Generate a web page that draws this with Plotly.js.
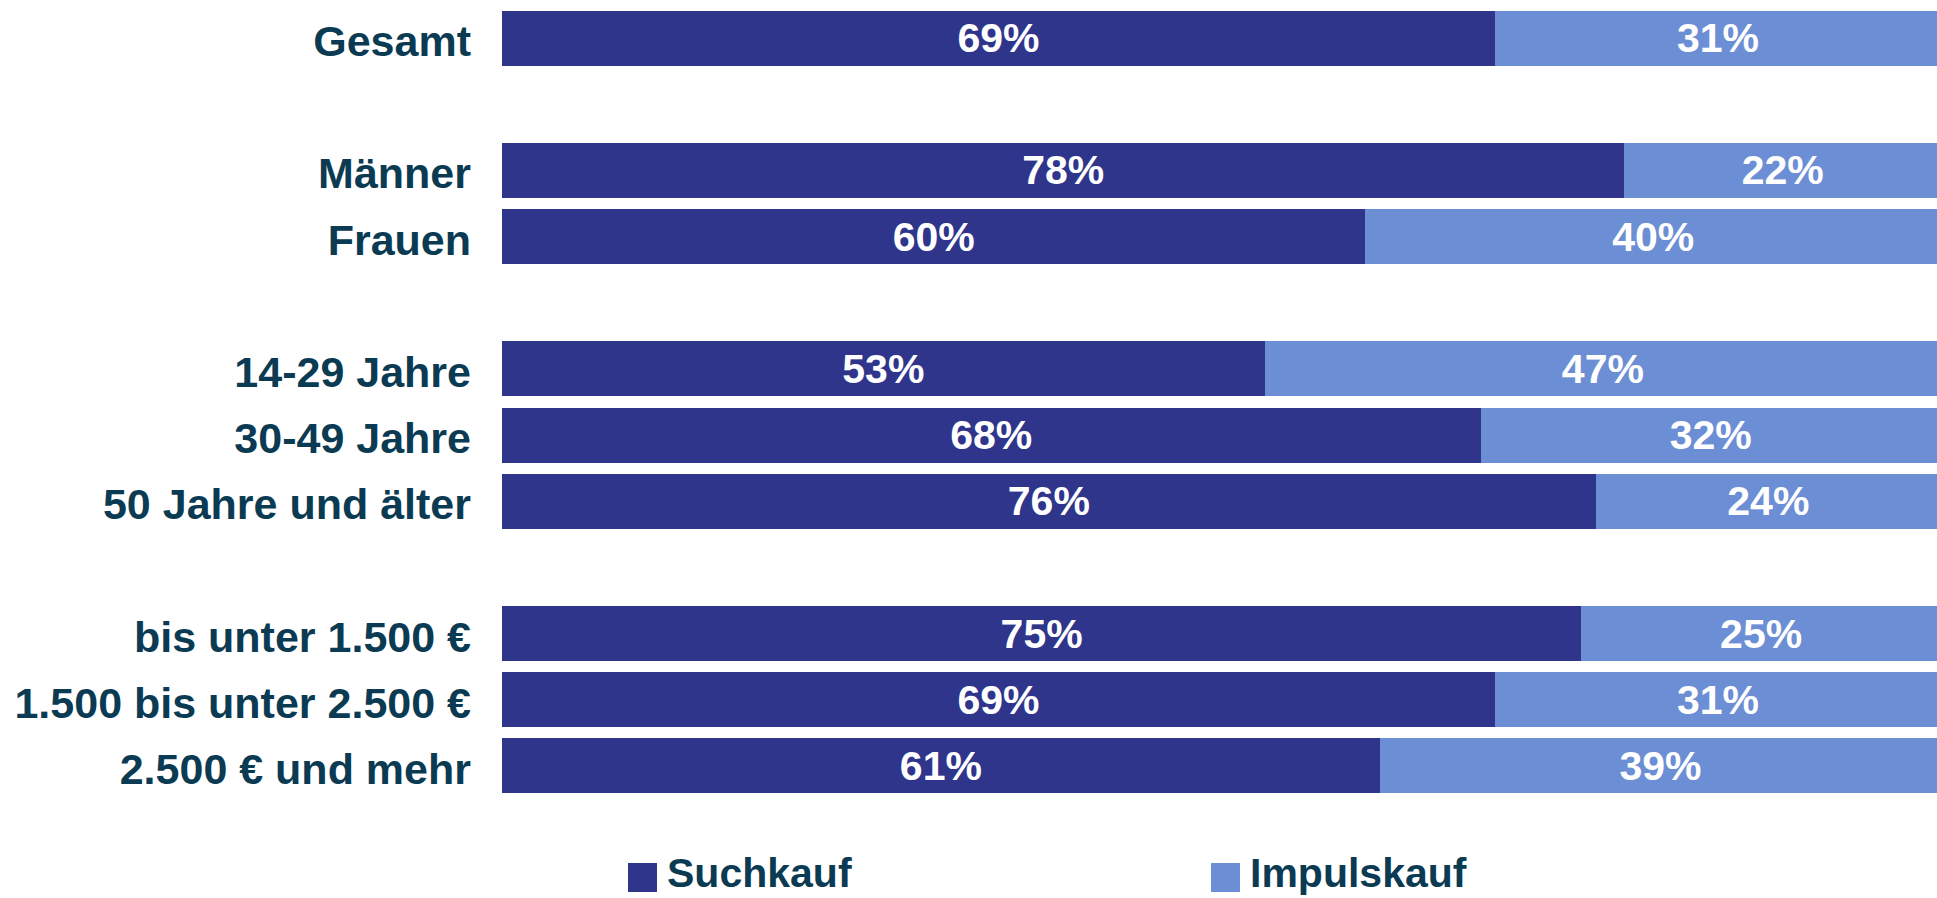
<!DOCTYPE html>
<html>
<head>
<meta charset="utf-8">
<script src="https://cdn.plot.ly/plotly-3.0.1.min.js"></script>
<style>
  html, body { margin: 0; padding: 0; background: #ffffff; }
  #chart { width: 1937px; height: 898px; }
</style>
</head>
<body>
<div id="chart"></div>
<script>
// ---- Data ----
const categories = [
  "Gesamt", " ",
  "Männer", "Frauen", "  ",
  "14-29 Jahre", "30-49 Jahre", "50 Jahre und älter", "   ",
  "bis unter 1.500 €", "1.500 bis unter 2.500 €", "2.500 € und mehr"
];
const suchkauf   = [69, null, 78, 60, null, 53, 68, 76, null, 75, 69, 61];
const impulskauf = [31, null, 22, 40, null, 47, 32, 24, null, 25, 31, 39];
const seriesNames = ["Suchkauf", "Impulskauf"];

// ---- Styles ----
const FONT = "Liberation Sans, Arial, Helvetica, sans-serif";
const TEXT_COLOR = "#0b3a53";
const DARK = "#2e358b";
const LIGHT = "#6c8ed4";

function barTrace(name, values, color) {
  return {
    type: "bar",
    orientation: "h",
    name: name,
    y: categories,
    x: values,
    marker: { color: color, line: { width: 0 } },
    texttemplate: "%{x}%",
    textposition: "inside",
    insidetextanchor: "middle",
    constraintext: "none",
    textfont: { family: FONT, size: 41, color: "#ffffff", weight: "bold" },
    hoverinfo: "skip",
    showlegend: false
  };
}

const traces = [
  barTrace(seriesNames[0], suchkauf, DARK),
  barTrace(seriesNames[1], impulskauf, LIGHT)
];

// Custom legend (large square swatches like the reference)
const legendItems = [
  { name: seriesNames[0], color: DARK, x0: 0.0878, x1: 0.1080, tx: 0.1145 },
  { name: seriesNames[1], color: LIGHT, x0: 0.4941, x1: 0.5143, tx: 0.5205 }
];
const shapes = legendItems.map(it => ({
  type: "rect", xref: "paper", yref: "paper",
  x0: it.x0, x1: it.x1, y0: -0.0806, y1: -0.1171,
  fillcolor: it.color, line: { width: 0 }
}));
const annotations = legendItems.map(it => ({
  xref: "paper", yref: "paper",
  x: it.tx, y: -0.0935,
  xanchor: "left", yanchor: "middle",
  showarrow: false,
  borderpad: 0,
  text: it.name,
  font: { family: FONT, size: 41, color: TEXT_COLOR, weight: "bold" }
}));

const layout = {
  width: 1937,
  height: 898,
  margin: { l: 502, r: 0, t: 5, b: 99, pad: 0 },
  paper_bgcolor: "#ffffff",
  plot_bgcolor: "#ffffff",
  barmode: "stack",
  bargap: 0.168,
  showlegend: false,
  xaxis: {
    range: [0, 99.72],
    visible: false,
    fixedrange: true
  },
  yaxis: {
    type: "category",
    categoryorder: "array",
    categoryarray: categories,
    autorange: "reversed",
    showgrid: false,
    zeroline: false,
    showline: false,
    ticks: "",
    ticklabelstandoff: 30,
    ticklabelshift: -3,
    tickfont: { family: FONT, size: 43, color: TEXT_COLOR, weight: "bold" },
    fixedrange: true
  },
  shapes: shapes,
  annotations: annotations
};

Plotly.newPlot("chart", traces, layout, { displayModeBar: false, staticPlot: true });
</script>
</body>
</html>
